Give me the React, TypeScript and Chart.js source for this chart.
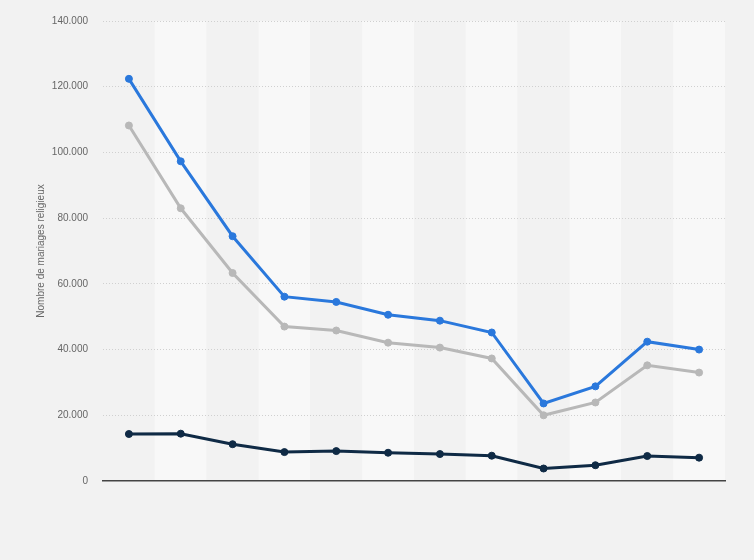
import React, { useEffect, useRef } from "react";
import { Chart, registerables } from "chart.js";

Chart.register(...registerables);

const categories = ["1", "2", "3", "4", "5", "6", "7", "8", "9", "10", "11", "12"];
const seriesTotal = [122.4, 97.3, 74.5, 56.1, 54.5, 50.6, 48.8, 45.2, 23.6, 28.8, 42.4, 40.0].map((v) => v * 1000);
const seriesGray = [108.2, 83.0, 63.3, 47.0, 45.8, 42.1, 40.6, 37.3, 20.0, 23.9, 35.2, 33.0].map((v) => v * 1000);
const seriesDark = [14.3, 14.4, 11.2, 8.8, 9.1, 8.6, 8.2, 7.7, 3.8, 4.8, 7.6, 7.1].map((v) => v * 1000);
const yTitle = "Nombre de mariages religieux";

const bandPluginBefore = {
  id: "bandsBg",
  beforeDraw(chart: any) {
    const { ctx, chartArea, scales } = chart;
    const x = scales.x;
    const n = categories.length;
    const step = (chartArea.right - chartArea.left) / n;
    ctx.save();
    for (let i = 0; i < n; i++) {
      const c = x.getPixelForValue(i);
      ctx.fillStyle = i % 2 === 0 ? "#f2f2f2" : "#f8f8f8";
      ctx.fillRect(c - step / 2, chartArea.top, step, chartArea.bottom - chartArea.top);
    }
    ctx.restore();
  },
};

export default function App() {
  const ref = useRef<HTMLCanvasElement | null>(null);
  useEffect(() => {
    document.body.style.margin = "0";
    const mk = (data: number[], color: string) => ({
      data,
      borderColor: color,
      backgroundColor: color,
      pointBackgroundColor: color,
      pointBorderColor: color,
      borderWidth: 3,
      pointRadius: 3.5,
      pointBorderWidth: 1,
      tension: 0,
    });
    const chart = new Chart(ref.current as HTMLCanvasElement, {
      type: "line",
      data: {
        labels: categories,
        datasets: [mk(seriesDark, "#0f2a45"), mk(seriesGray, "#b8b8b8"), mk(seriesTotal, "#2a78dc")],
      },
      plugins: [bandPluginBefore],
      options: {
        animation: false,
        responsive: false,
        layout: { padding: { top: 19, right: 29, bottom: 79, left: 0 } },
        plugins: { legend: { display: false }, tooltip: { enabled: false } },
        scales: {
          x: {
            offset: true,
            ticks: { display: false },
            grid: { display: false, drawTicks: false },
            border: { display: true, color: "#444444", width: 1.5 },
            afterFit: (s: any) => {
              s.height = 0;
            },
          },
          y: {
            min: 0,
            max: 140000,
            ticks: {
              stepSize: 20000,
              padding: 15,
              color: "#666666",
              font: { family: "'Liberation Sans', Arial, sans-serif", size: 10 },
              callback: (v: any) => (v === 0 ? "0" : Number(v).toLocaleString("de-DE")),
            },
            grid: {
              color: (c: any) => (c.tick && c.tick.value === 0 ? "rgba(0,0,0,0)" : "#d0d0d0"),
              drawTicks: false,
            },
            border: { display: false, dash: [1, 2] },
            title: {
              display: true,
              text: yTitle,
              color: "#666666",
              font: { family: "'Liberation Sans', Arial, sans-serif", size: 10 },
              padding: { top: 35, bottom: 0 },
            },
            afterFit: (s: any) => {
              s.width = 103;
            },
          },
        },
      },
    } as any);
    return () => chart.destroy();
  }, []);
  return (
    <div style={{ width: 754, height: 560, background: "#f2f2f2" }}>
      <canvas ref={ref} width={754} height={560} style={{ display: "block" }} />
    </div>
  );
}
